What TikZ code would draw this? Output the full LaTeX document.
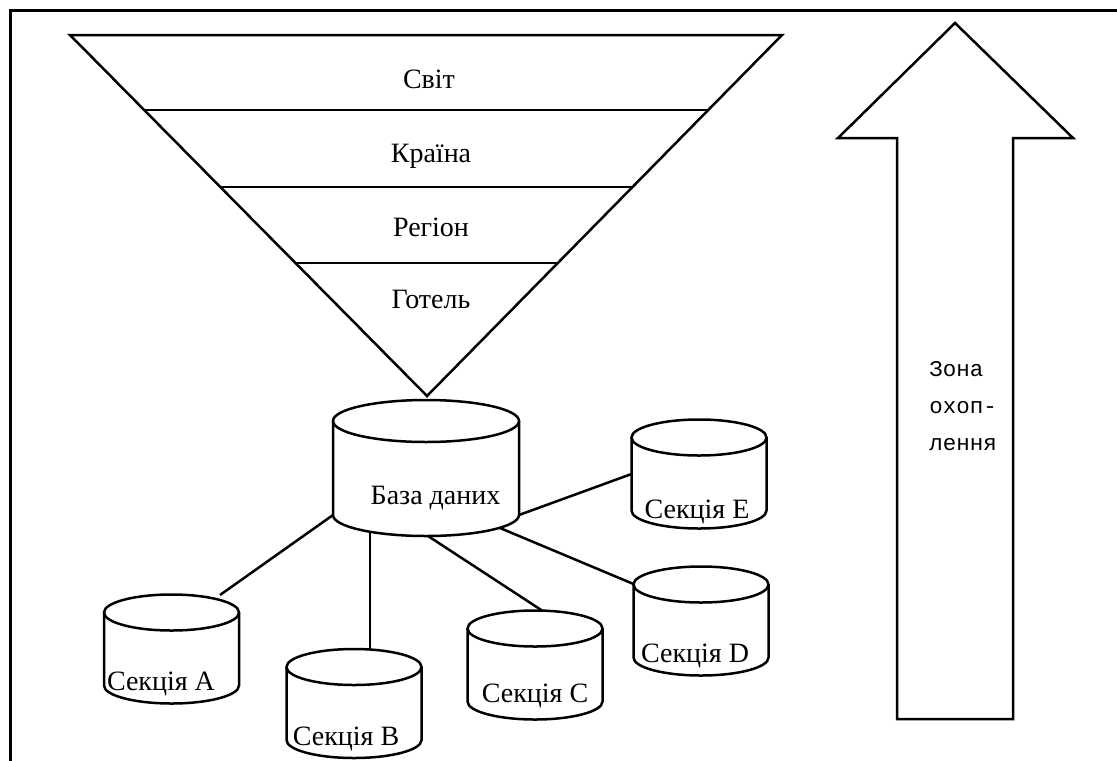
\documentclass[tikz,border=0pt]{standalone}
\usepackage{fontspec}
\setmainfont{Liberation Serif}
\newfontfamily\zonefont{Liberation Mono}
\usetikzlibrary{calc}
\tikzset{
    cyl/.style={rectangle, minimum width=67.5pt, minimum height=54.5pt,
                inner sep=0pt, outer sep=0pt},
    bigcyl/.style={cyl, minimum width=93pt, minimum height=68pt},
    shp/.style={line width=1.25pt, line join=miter},
    link/.style={line width=1.25pt},
    frm/.style={line width=1.5pt},
    lvl/.style={anchor=base, font=\fontsize{14}{16}\selectfont, inner sep=0pt},
    lbl/.style={anchor=base, font=\fontsize{14}{16}\selectfont, inner sep=0pt},
    zone/.style={anchor=west, align=left, inner sep=0pt,
                 font=\zonefont\fontsize{11.25}{18.3}\selectfont},
}
% outline of a database drum round a named node: node, x radius, end radius
\newcommand{\drum}[3]{%
    \draw[shp] ([yshift=-#3]#1.north west) -- ([yshift=#3]#1.south west)
        arc[start angle=180, end angle=360, x radius=#2, y radius=#3]
        -- ([yshift=-#3]#1.north east);
    \draw[shp] ([yshift=-#3]#1.north) ellipse[x radius=#2, y radius=#3];
}

\begin{document}
\begin{tikzpicture}[x=0.5pt, y=-0.5pt]
    \useasboundingbox (0,0) rectangle (1117,760);
    \draw[frm] (10,790) -- (10,10) -- (1140,10);

    % funnel
    \coordinate (tl) at (70,35);
    \coordinate (tr) at (782,35);
    \coordinate (apex) at (427,396);
    \draw[shp] (tl) -- (tr) -- (apex) -- cycle;
    \foreach \y in {110,187,263}
        \draw[shp] ($(tl)!{(\y-35)/361}!(apex)$) -- ($(tr)!{(\y-35)/361}!(apex)$);
    \node[lvl] (world)   at (429,88)  {Світ};
    \node[lvl] (country) at (431,162) {Країна};
    \node[lvl] (region)  at (431,236) {Регіон};
    \node[lvl] (hotel)   at (431,308) {Готель};

    % database and sections
    \node[bigcyl, label={[lbl, xshift=4.75pt, yshift=-15pt]center:База даних}] (base) at (426,468) {};
    \node[cyl, label={[lbl, xshift=-5.25pt, yshift=-17.5pt]center:Секція A}] (secA) at (171.5,649) {};
    \node[cyl, label={[lbl, xshift=-4pt, yshift=-17.75pt]center:Секція B}] (secB) at (354,703.5) {};
    \node[cyl, label={[lbl, xshift=0pt, yshift=-15.5pt]center:Секція C}] (secC) at (535,665) {};
    \node[cyl, label={[lbl, xshift=-3pt, yshift=-17.5pt]center:Секція D}] (secD) at (701,621) {};
    \node[cyl, label={[lbl, xshift=-1pt, yshift=-19pt]center:Секція E}] (secE) at (699,474) {};
    \drum{base}{46.5pt}{10.5pt}
    \foreach \s in {secA,secB,secC,secD,secE}{
        \drum{\s}{33.75pt}{9pt}
    }

    \draw[link] ($(base)+(-93,47)$) -- ($(secA)+(48.5,-54)$);
    \draw[link] ($(base)+(-56,64)$) -- ($(secB)+(16,-54)$);
    \draw[link] ($(base)+(2,68)$) -- ($(secC.north)+(7,0)$);
    \draw[link] ($(base)+(74,60)$) -- ($(secD.west)+(0,-37)$);
    \draw[link] ($(base)+(93,47)$) -- (secE.west);

    % coverage arrow
    \draw[shp] (955,23) -- (1073,138) -- (1013,138) -- (1013,719)
        -- (897,719) -- (897,138) -- (838,138) -- cycle;
    \node[zone] (cover) at (929,406) {Зона\\охоп-\\лення};
\end{tikzpicture}
\end{document}
